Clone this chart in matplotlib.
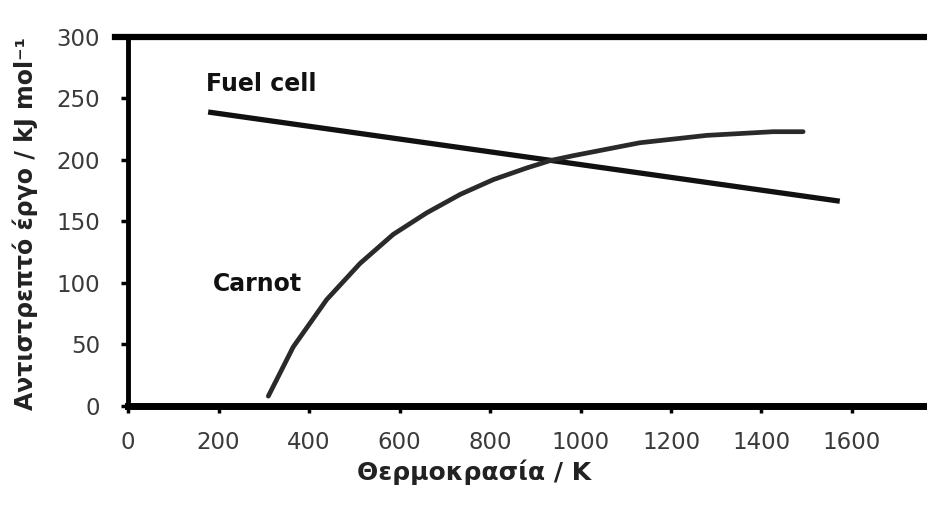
import matplotlib
matplotlib.use("Agg")
import matplotlib.pyplot as plt

# values
fuel_T = [177, 1573]
fuel_W = [239, 166.5]
carnot_T = [310, 365, 439, 513, 586, 660, 734, 807, 881, 933, 984, 1131, 1279, 1426, 1492]
carnot_W = [8, 48, 86.5, 116, 139.5, 157, 172, 184, 193.5, 199.5, 203.5, 214, 220, 223, 223]
xticks = [0, 200, 400, 600, 800, 1000, 1200, 1400, 1600]
yticks = [0, 50, 100, 150, 200, 250, 300]

plt.rcParams['font.family'] = ['DejaVu Sans']
fig = plt.figure(figsize=(9.28, 5.08), dpi=100)
ax = fig.add_axes([0.138, 0.2008, 0.862, 0.7264])

ax.plot(fuel_T, fuel_W, color='#111111', lw=3.8, solid_capstyle='butt')
ax.plot(carnot_T, carnot_W, color='#2a2a2a', lw=3.4, solid_capstyle='round',
        solid_joinstyle='round')

ax.set_xlim(0, 1768)
ax.set_ylim(0, 300)
ax.set_xticks(xticks)
ax.set_yticks(yticks)

ax.spines['right'].set_visible(False)
ax.spines['left'].set_linewidth(3.5)
ax.spines['top'].set_linewidth(4.5)
ax.spines['bottom'].set_linewidth(5)
ax.spines['top'].set_bounds(-28, 1768)
for s in ['top', 'bottom', 'left']:
    ax.spines[s].set_capstyle('projecting')

ax.tick_params(axis='x', direction='out', length=5, width=2.5, pad=13,
               labelsize=16.5, labelcolor='#3a3a3a')
ax.tick_params(axis='y', direction='out', length=5, width=2.5, pad=15,
               labelsize=16.5, labelcolor='#3a3a3a')

ax.set_xlabel('Θερμοκρασία / K', fontsize=18, fontweight='bold', color='#222222')
ax.set_ylabel('Αντιστρεπτό έργο / kJ mol⁻¹', fontsize=17, fontweight='bold', color='#222222')
ax.xaxis.set_label_coords(0.432, -0.145)
ax.yaxis.set_label_coords(-0.112, 0.495)

ax.text(172, 262, 'Fuel cell', fontsize=17, fontweight='bold', color='#111111', va='center')
ax.text(188, 99, 'Carnot', fontsize=17, fontweight='bold', color='#111111', va='center')

fig.savefig('out.png', dpi=100)
